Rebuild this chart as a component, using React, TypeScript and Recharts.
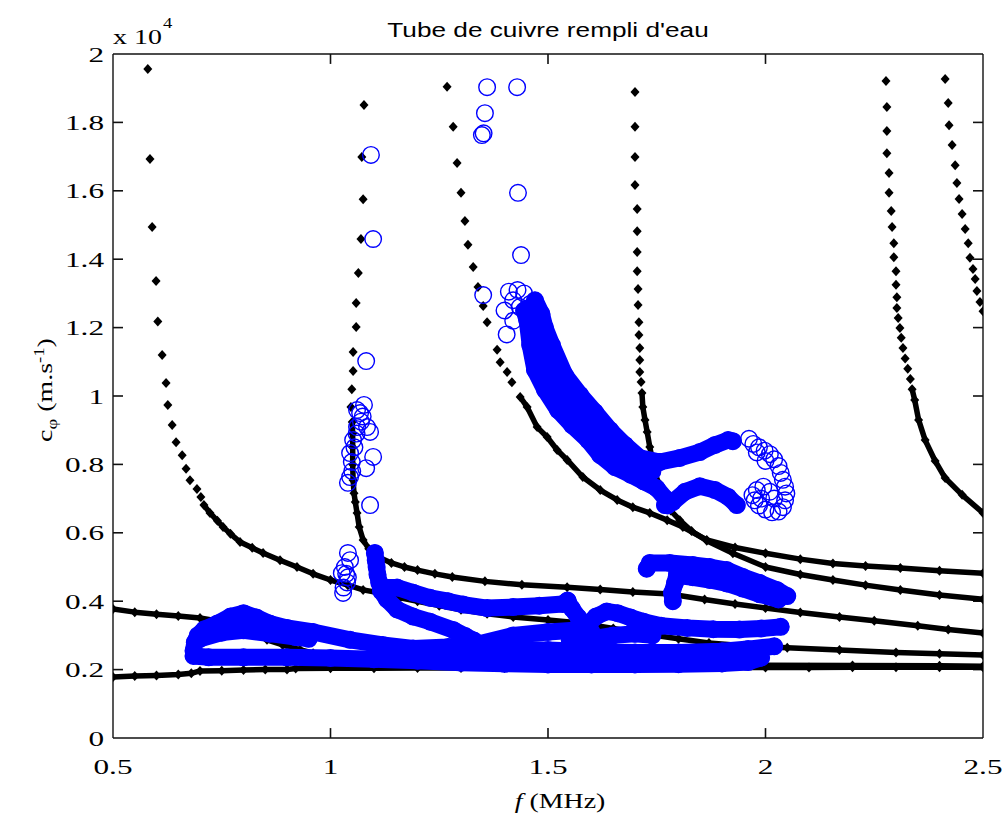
import { ScatterChart, Scatter, XAxis, YAxis, ReferenceLine } from "recharts";

// axes
const xTicks = [0.5, 1, 1.5, 2, 2.5];
const yTicks = [0, 0.2, 0.4, 0.6, 0.8, 1, 1.2, 1.4, 1.6, 1.8, 2];
const X_MIN = 0.5, X_MAX = 2.5, Y_MIN = 0, Y_MAX = 2;
const TICK_F = 0.023; // inward tick length, in axis units (about 10px)
const TICK_C = 0.029;

// theoretical curves (f in MHz, c in 1e4 m/s). "Top" = sparse part near the cut-off
const curve1 = [[0.5,0.178],[0.55,0.181],[0.6,0.183],[0.65,0.186],[0.68,0.189],[0.7,0.196],[0.75,0.197],[0.8,0.199],[0.85,0.2],[0.9,0.2],[0.92,0.203],[1.0,0.204],[1.1,0.204],[1.2,0.205],[1.3,0.205],[1.4,0.205],[1.5,0.205],[1.6,0.205],[1.7,0.205],[1.8,0.206],[1.9,0.206],[2.0,0.206],[2.1,0.206],[2.2,0.207],[2.3,0.207],[2.4,0.207],[2.5,0.207]];
const curve2 = [[0.5,0.377],[0.55,0.368],[0.6,0.362],[0.65,0.357],[0.7,0.351],[0.75,0.34],[0.78,0.33],[0.815,0.31],[0.854,0.287],[0.89,0.272],[0.93,0.258],[0.96,0.248],[1.0,0.242],[1.05,0.236],[1.1,0.23],[1.2,0.224],[1.3,0.22],[1.4,0.218],[1.6,0.216],[1.8,0.214],[2.0,0.213],[2.2,0.212],[2.4,0.211],[2.5,0.21]];
const curve3Top = [[0.58,1.956],[0.585,1.693],[0.59,1.494],[0.599,1.336],[0.603,1.218],[0.613,1.12],[0.622,1.038],[0.626,0.974],[0.636,0.915],[0.645,0.865],[0.659,0.827],[0.668,0.787],[0.677,0.754],[0.693,0.728],[0.702,0.705]];
const curve3 = [[0.709,0.681],[0.723,0.658],[0.74,0.635],[0.753,0.617],[0.77,0.597],[0.792,0.573],[0.82,0.556],[0.845,0.541],[0.884,0.52],[0.923,0.5],[0.96,0.48],[1.0,0.462],[1.04,0.447],[1.075,0.433],[1.114,0.424],[1.16,0.41],[1.2,0.4],[1.25,0.387],[1.3,0.375],[1.36,0.363],[1.42,0.354],[1.5,0.345],[1.574,0.336],[1.65,0.32],[1.72,0.305],[1.8,0.29],[1.87,0.278],[1.95,0.27],[2.05,0.264],[2.17,0.257],[2.3,0.25],[2.4,0.246],[2.5,0.243]];
const curve4Top = [[1.077,1.851],[1.072,1.699],[1.075,1.575],[1.07,1.459],[1.064,1.36],[1.059,1.272],[1.059,1.202],[1.052,1.129],[1.052,1.073],[1.049,1.02],[1.047,0.968]];
const curve4 = [[1.05,0.924],[1.051,0.89],[1.051,0.85],[1.051,0.8],[1.052,0.754],[1.054,0.716],[1.057,0.69],[1.061,0.658],[1.066,0.617],[1.075,0.579],[1.088,0.553],[1.11,0.529],[1.14,0.512],[1.17,0.5],[1.2,0.491],[1.24,0.48],[1.28,0.471],[1.355,0.458],[1.44,0.448],[1.544,0.441],[1.62,0.434],[1.695,0.427],[1.78,0.421],[1.86,0.405],[1.93,0.392],[2.0,0.38],[2.08,0.367],[2.17,0.354],[2.25,0.343],[2.35,0.328],[2.42,0.317],[2.5,0.307]];
const curve5Top = [[1.268,1.904],[1.282,1.787],[1.291,1.681],[1.3,1.594],[1.309,1.512],[1.316,1.442],[1.328,1.377],[1.339,1.319],[1.351,1.263],[1.36,1.216],[1.383,1.135],[1.39,1.099],[1.406,1.07],[1.417,1.04]];
const curve5 = [[1.436,0.997],[1.452,0.968],[1.475,0.909],[1.498,0.88],[1.521,0.842],[1.544,0.813],[1.58,0.763],[1.62,0.725],[1.659,0.696],[1.695,0.675],[1.734,0.658],[1.774,0.637],[1.81,0.617],[1.865,0.579],[1.93,0.557],[2.0,0.54],[2.08,0.523],[2.155,0.51],[2.23,0.503],[2.31,0.497],[2.4,0.489],[2.5,0.482]];
const curve6Top = [[1.7,1.889],[1.7,1.787],[1.7,1.699],[1.7,1.617],[1.705,1.547],[1.705,1.482],[1.705,1.421],[1.705,1.365],[1.707,1.313],[1.707,1.266],[1.709,1.216],[1.709,1.178],[1.711,1.14],[1.711,1.105],[1.711,1.07],[1.714,1.041]];
const curve6 = [[1.716,1.009],[1.718,0.968],[1.723,0.93],[1.728,0.895],[1.734,0.851],[1.742,0.8],[1.752,0.75],[1.765,0.705],[1.782,0.665],[1.803,0.637],[1.83,0.605],[1.865,0.577],[1.925,0.54],[2.0,0.5],[2.08,0.478],[2.155,0.462],[2.23,0.447],[2.31,0.433],[2.4,0.418],[2.5,0.406]];
const curve7Top = [[2.277,1.921],[2.279,1.845],[2.279,1.775],[2.279,1.71],[2.284,1.652],[2.284,1.594],[2.289,1.541],[2.291,1.494],[2.295,1.447],[2.295,1.406],[2.3,1.365],[2.3,1.325],[2.302,1.289],[2.302,1.257],[2.305,1.228],[2.309,1.199],[2.312,1.17],[2.316,1.14],[2.321,1.11],[2.327,1.08],[2.333,1.05]];
const curve7 = [[2.337,1.02],[2.343,0.988],[2.352,0.93],[2.367,0.871],[2.39,0.81],[2.413,0.76],[2.452,0.711],[2.5,0.658]];
const curve8Top = [[2.413,1.927],[2.42,1.857],[2.422,1.792],[2.429,1.734],[2.436,1.675],[2.44,1.623],[2.445,1.576],[2.452,1.532],[2.459,1.488],[2.466,1.447],[2.47,1.404],[2.477,1.371],[2.482,1.342],[2.486,1.307],[2.493,1.275],[2.5,1.248]];

// measured points (bands of overlapping circles)
const blueLow = [[0.685,0.24],[0.72,0.236],[0.8,0.236],[0.9,0.236],[1.0,0.234],[1.1,0.23],[1.2,0.226],[1.3,0.22],[1.4,0.217],[1.5,0.215],[1.6,0.215],[1.7,0.215],[1.8,0.216],[1.9,0.218],[1.96,0.222],[1.99,0.235]];
const blueLow2 = [[1.3,0.255],[1.4,0.258],[1.5,0.257],[1.6,0.252],[1.7,0.25],[1.8,0.25],[1.9,0.254],[1.96,0.26],[2.02,0.268]];
const blueLoop = [[0.685,0.255],[0.688,0.28],[0.695,0.3],[0.71,0.318],[0.74,0.335],[0.77,0.355],[0.8,0.365],[0.83,0.352],[0.86,0.335],[0.9,0.322],[0.96,0.31],[1.045,0.287],[1.12,0.272],[1.19,0.262],[1.27,0.266],[1.34,0.275],[1.42,0.3],[1.5,0.31],[1.56,0.315],[1.6,0.31]];
const blueLoop2 = [[0.7,0.29],[0.75,0.308],[0.8,0.315],[0.86,0.305],[0.92,0.295],[0.95,0.29]];
const blueStem = [[1.102,0.541],[1.104,0.52],[1.106,0.5],[1.108,0.478],[1.112,0.455],[1.116,0.435]];
const blueUpper1 = [[1.116,0.44],[1.153,0.44],[1.19,0.425],[1.229,0.41],[1.27,0.4],[1.305,0.39],[1.36,0.38],[1.42,0.383],[1.48,0.387],[1.534,0.392],[1.545,0.402]];
const blueLower1 = [[1.116,0.43],[1.13,0.405],[1.153,0.376],[1.19,0.355],[1.229,0.34],[1.282,0.316],[1.31,0.298],[1.33,0.285]];
const blueDrop = [[1.545,0.4],[1.555,0.378],[1.57,0.352],[1.585,0.325],[1.6,0.3]];
const blueMid = [[1.59,0.33],[1.61,0.355],[1.635,0.37],[1.66,0.365],[1.69,0.352],[1.72,0.34],[1.76,0.328],[1.82,0.322],[1.88,0.318],[1.94,0.317],[1.99,0.32],[2.035,0.325]];
const blueMid2 = [[1.55,0.285],[1.6,0.29],[1.65,0.3],[1.7,0.305],[1.74,0.3]];
const blueUpTop = [[1.727,0.495],[1.734,0.512],[1.78,0.512],[1.833,0.506],[1.872,0.5],[1.911,0.491],[1.948,0.471],[1.987,0.453],[2.026,0.433],[2.05,0.415]];
const blueUpBot = [[1.797,0.475],[1.833,0.47],[1.872,0.462],[1.911,0.452],[1.948,0.437],[1.987,0.42],[2.03,0.405]];
const blueHook = [[1.797,0.482],[1.792,0.453],[1.785,0.424],[1.787,0.4]];
const blueDiagL = [[1.445,1.25],[1.452,1.222],[1.459,1.149],[1.47,1.076],[1.493,1.018],[1.523,0.959],[1.555,0.915],[1.592,0.871],[1.62,0.827],[1.654,0.792],[1.69,0.77],[1.72,0.75],[1.75,0.73],[1.77,0.7],[1.775,0.68]];
const blueDiagM = [[1.46,1.26],[1.47,1.2],[1.485,1.12],[1.505,1.06],[1.53,1.0],[1.565,0.95],[1.6,0.905],[1.635,0.86],[1.67,0.825],[1.7,0.8],[1.74,0.78]];
const blueDiagR = [[1.47,1.28],[1.485,1.24],[1.493,1.2],[1.509,1.149],[1.539,1.061],[1.574,1.003],[1.608,0.953],[1.643,0.9],[1.677,0.857],[1.711,0.819],[1.757,0.807]];
const blueZTop = [[1.711,0.813],[1.757,0.807],[1.803,0.819],[1.849,0.836],[1.884,0.857],[1.914,0.871],[1.925,0.868]];
const blueZLow = [[1.769,0.681],[1.787,0.69],[1.815,0.72],[1.849,0.736],[1.884,0.725],[1.914,0.705],[1.934,0.681]];

// isolated circles
const blueRight = [[1.962,0.875],[1.972,0.86],[1.985,0.85],[1.998,0.84],[2.01,0.83],[2.02,0.815],[2.03,0.795],[2.035,0.775],[2.04,0.755],[2.045,0.735],[2.048,0.715],[2.045,0.695],[2.04,0.675],[2.03,0.662],[2.015,0.66],[2.0,0.668],[1.985,0.68],[1.975,0.695],[1.97,0.71],[1.98,0.725],[1.995,0.735],[2.01,0.72],[1.99,0.7],[2.02,0.7],[1.98,0.835],[2.0,0.81]];
const blueTop = [[1.36,1.903],[1.429,1.903],[1.355,1.827],[1.348,1.763],[1.352,1.768],[1.431,1.594],[1.438,1.412],[1.351,1.295],[1.093,1.705],[1.098,1.459],[1.082,1.102],[1.091,0.895],[1.098,0.822],[1.082,0.789],[1.091,0.681],[1.41,1.305],[1.43,1.31],[1.445,1.3],[1.42,1.28],[1.4,1.25],[1.42,1.22],[1.405,1.18],[1.435,1.26],[1.46,1.27]];
const blueNear1 = [[1.077,0.974],[1.068,0.95],[1.074,0.94],[1.061,0.959],[1.061,0.909],[1.084,0.909],[1.07,0.925],[1.052,0.871],[1.06,0.89],[1.045,0.833],[1.049,0.807],[1.055,0.85],[1.04,0.746],[1.045,0.763],[1.05,0.78],[1.04,0.541],[1.045,0.52],[1.033,0.5],[1.036,0.48],[1.026,0.482],[1.038,0.455],[1.03,0.44],[1.029,0.424],[1.04,0.47]];

const toPts = (a: number[][]) => a.map(([f, c]) => ({ f, c }));

const blackTops = [curve3Top, curve4Top, curve5Top, curve6Top, curve7Top, curve8Top];
const blackDense = [curve1, curve2, curve3, curve4, curve5, curve6, curve7];
const blueBands = [blueLow, blueLow2, blueLoop, blueLoop2, blueStem, blueUpper1, blueLower1, blueDrop, blueMid, blueMid2, blueUpTop, blueUpBot, blueHook, blueDiagL, blueDiagM, blueDiagR, blueZTop, blueZLow];
const blueDots = [blueRight, blueTop, blueNear1];

// inward tick marks on all four sides of the box
const tickSegments = [
  ...xTicks.slice(1, -1).flatMap((t) => [
    [{ x: t, y: Y_MIN }, { x: t, y: Y_MIN + TICK_C }],
    [{ x: t, y: Y_MAX }, { x: t, y: Y_MAX - TICK_C }],
  ]),
  ...yTicks.slice(1, -1).flatMap((t) => [
    [{ x: X_MIN, y: t }, { x: X_MIN + TICK_F, y: t }],
    [{ x: X_MAX, y: t }, { x: X_MAX - TICK_F, y: t }],
  ]),
];

const BLUE = "#0000ff";
const INK = "#111";
const SERIF = "'Liberation Serif', 'Times New Roman', serif";
const SX = 1.33;

const Diamond = (p: any) => {
  const { cx, cy } = p;
  if (cx == null || cy == null) return null;
  return <path d={`M${cx} ${cy - 5}L${cx + 4.5} ${cy}L${cx} ${cy + 5}L${cx - 4.5} ${cy}Z`} fill="#000" />;
};

const Ring = (p: any) => {
  if (p.cx == null || p.cy == null) return null;
  return <circle cx={p.cx} cy={p.cy} r={8.3} fill="none" stroke={BLUE} strokeWidth={1.4} />;
};

const BottomTick = (p: any) => (
  <text transform={`translate(${p.x},${p.y}) scale(1.42,1)`} y={36} textAnchor="middle" fontFamily={SERIF} fontSize={22} fill="#000">
    {p.payload.value}
  </text>
);

const LeftTick = (p: any) => (
  <text transform={`translate(${p.x - 9},${p.y}) scale(1.42,1)`} y={7.5} textAnchor="end" fontFamily={SERIF} fontSize={22} fill="#000">
    {p.payload.value}
  </text>
);

const NoTick = () => <g />;

const axisStroke = { stroke: INK, strokeWidth: 1.4 };

export default function App() {
  return (
    <div style={{ position: "absolute", left: 0, top: 0, width: 1004, height: 816, background: "#fff" }}>
      <ScatterChart width={1004} height={816} margin={{ top: 53, right: 20, bottom: 77, left: 112 }}>
        <XAxis
          type="number"
          dataKey="f"
          domain={[X_MIN, X_MAX]}
          ticks={xTicks}
          allowDataOverflow
          height={1}
          tickSize={0}
          tickMargin={0}
          axisLine={axisStroke}
          tickLine={false}
          tick={BottomTick}
        />
        <YAxis
          type="number"
          dataKey="c"
          domain={[Y_MIN, Y_MAX]}
          ticks={yTicks}
          allowDataOverflow
          width={1}
          tickSize={0}
          tickMargin={0}
          axisLine={axisStroke}
          tickLine={false}
          tick={LeftTick}
        />
        <XAxis xAxisId="top" orientation="top" type="number" domain={[X_MIN, X_MAX]} ticks={xTicks} height={1} tickSize={0} axisLine={axisStroke} tickLine={false} tick={NoTick} />
        <YAxis yAxisId="right" orientation="right" type="number" domain={[Y_MIN, Y_MAX]} ticks={yTicks} width={1} tickSize={0} axisLine={axisStroke} tickLine={false} tick={NoTick} />

        {tickSegments.map((seg, i) => (
          <ReferenceLine key={`tk${i}`} segment={seg} stroke={INK} strokeWidth={1.6} ifOverflow="visible" />
        ))}

        {blackTops.map((d, i) => (
          <Scatter key={`bt${i}`} data={toPts(d)} fill="#000" shape={Diamond} isAnimationActive={false} />
        ))}
        {blackDense.map((d, i) => (
          <Scatter
            key={`bd${i}`}
            data={toPts(d)}
            fill="#000"
            shape={Diamond}
            line={{ stroke: "#000", strokeWidth: 5.5, strokeLinejoin: "round", strokeLinecap: "round" }}
            lineType="joint"
            isAnimationActive={false}
          />
        ))}
        {blueBands.map((d, i) => (
          <Scatter
            key={`bb${i}`}
            data={toPts(d)}
            fill={BLUE}
            shape={Ring}
            line={{ stroke: BLUE, strokeWidth: 17, strokeLinejoin: "round", strokeLinecap: "round" }}
            lineType="joint"
            isAnimationActive={false}
          />
        ))}
        {blueDots.map((d, i) => (
          <Scatter key={`bo${i}`} data={toPts(d)} fill={BLUE} shape={Ring} isAnimationActive={false} />
        ))}
      </ScatterChart>

      <svg width={1004} height={816} style={{ position: "absolute", left: 0, top: 0, pointerEvents: "none" }}>
        <text transform={`translate(548,37) scale(1.31,1)`} textAnchor="middle" fontFamily="'Liberation Sans', Arial, sans-serif" fontSize={20} fill="#000">
          Tube de cuivre rempli d'eau
        </text>
        <text transform={`translate(113,44) scale(${SX},1)`} fontFamily={SERIF} fontSize={21} fill="#000">
          x 10
        </text>
        <text transform={`translate(163,28) scale(${SX},1)`} fontFamily={SERIF} fontSize={14} fill="#000">
          4
        </text>
        <text transform={`translate(560,808) scale(${SX},1)`} textAnchor="middle" fontFamily={SERIF} fontSize={21} fill="#000">
          <tspan fontStyle="italic">f</tspan> (MHz)
        </text>
        <text transform={`translate(52,390) rotate(-90) scale(${SX},1)`} textAnchor="middle" fontFamily={SERIF} fontSize={21} fill="#000">
          c<tspan fontSize={14} dy={5}>φ</tspan>
          <tspan dy={-5}> (m.s</tspan>
          <tspan fontSize={14} dy={-8}>-1</tspan>
          <tspan dy={8}>)</tspan>
        </text>
      </svg>
    </div>
  );
}
